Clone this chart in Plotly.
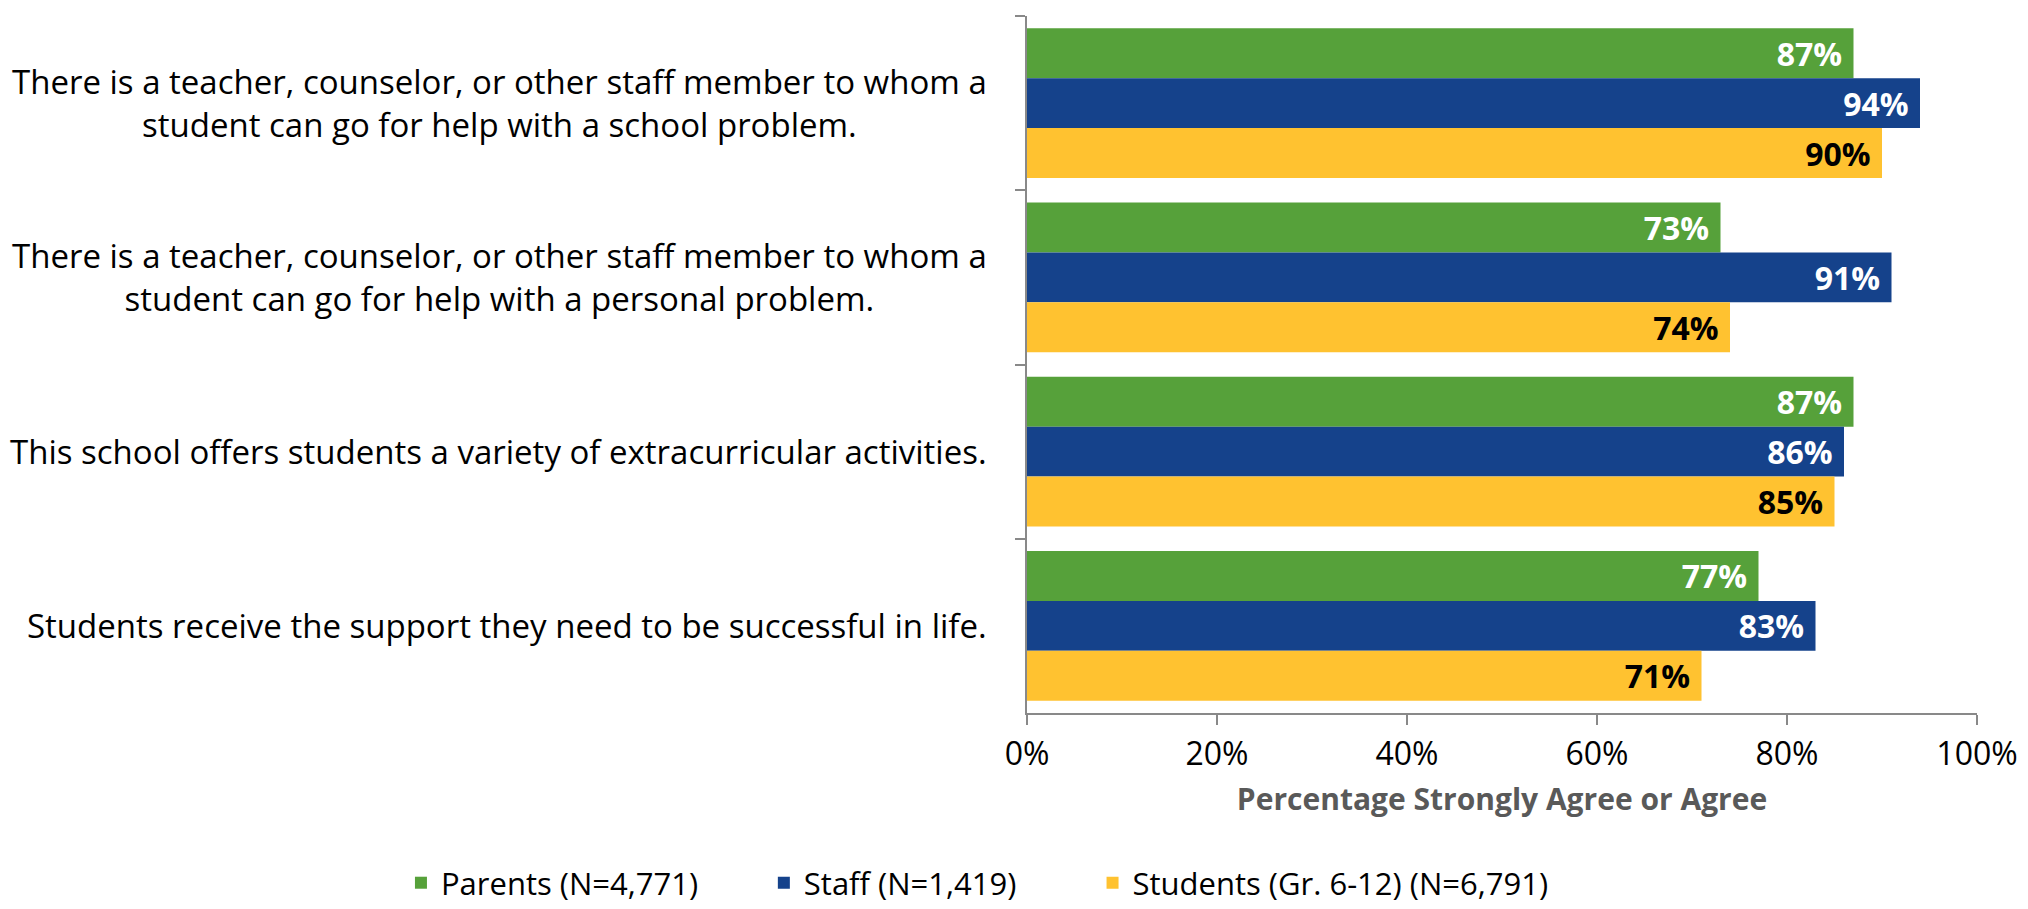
import plotly.graph_objects as go

# Survey statements (top to bottom)
statements = [
    "There is a teacher, counselor, or other staff member to whom a<br>student can go for help with a school problem.",
    "There is a teacher, counselor, or other staff member to whom a<br>student can go for help with a personal problem.",
    "This school offers students a variety of extracurricular activities.",
    "Students receive the support they need to be successful in life.",
]

groups = ["Parents (N=4,771)", "Staff (N=1,419)", "Students (Gr. 6-12) (N=6,791)"]
parents = [87, 73, 87, 77]
staff = [94, 91, 86, 83]
students = [90, 74, 85, 71]

x_ticks = [0, 20, 40, 60, 80, 100]

COLORS = ["#56A13A", "#15428B", "#FFC230"]
TEXT_COLORS = ["white", "white", "black"]
FONT = "Open Sans, sans-serif"
AXIS_GRAY = "#898989"

# one legend per series so each entry can sit where the reference puts it
LEGEND_IDS = ["legend", "legend2", "legend3"]
LEGEND_X = [-0.659, -0.277, 0.069]

fig = go.Figure()
for name, vals, color, tcolor, lid in zip(groups, [parents, staff, students],
                                          COLORS, TEXT_COLORS, LEGEND_IDS):
    fig.add_trace(go.Bar(
        y=statements,
        x=vals,
        orientation="h",
        name=name,
        legend=lid,
        showlegend=True,
        marker=dict(color=color, line=dict(width=0)),
        text=[f"<b>{v}%</b>\u00a0" for v in vals],
        textposition="inside",
        insidetextanchor="end",
        textfont=dict(family=FONT, size=32, color=tcolor),
    ))

# Centered multi-line category labels to the left of the axis
for s in statements:
    fig.add_annotation(
        x=0, xref="paper", y=s, yref="y",
        text=s, showarrow=False,
        xanchor="right", align="center", xshift=-38,
        font=dict(family=FONT, size=33, color="black"),
    )

legend_style = dict(
    orientation="h",
    xanchor="left",
    y=-0.244, yanchor="middle",
    font=dict(size=31),
    itemwidth=30,
    visible=True,
)

fig.update_layout(
    width=2028,
    height=909,
    showlegend=True,
    barmode="group",
    bargap=0.14,
    bargroupgap=0,
    plot_bgcolor="white",
    paper_bgcolor="white",
    margin=dict(l=1019, r=59, t=8, b=204, autoexpand=False),
    font=dict(family=FONT, size=32, color="black"),
    xaxis=dict(
        range=[0, 100],
        tickvals=x_ticks,
        ticktext=[f"{t}%" for t in x_ticks],
        ticks="outside",
        ticklen=10,
        tickwidth=2,
        tickcolor=AXIS_GRAY,
        showline=True,
        linecolor=AXIS_GRAY,
        linewidth=2,
        showgrid=False,
        zeroline=False,
        automargin=False,
        ticklabelstandoff=2,
        tickfont=dict(size=32, color="black"),
        title=dict(text="<b>Percentage Strongly Agree or Agree</b>",
                   font=dict(size=30, color="#595959"), standoff=16),
    ),
    yaxis=dict(
        autorange="reversed",
        showticklabels=False,
        ticks="outside",
        tickson="boundaries",
        ticklen=10,
        tickwidth=2,
        tickcolor=AXIS_GRAY,
        showline=True,
        linecolor=AXIS_GRAY,
        linewidth=2,
        showgrid=False,
        automargin=False,
    ),
    legend=dict(x=LEGEND_X[0], **legend_style),
    legend2=dict(x=LEGEND_X[1], **legend_style),
    legend3=dict(x=LEGEND_X[2], **legend_style),
)

fig.write_html("out.html")
